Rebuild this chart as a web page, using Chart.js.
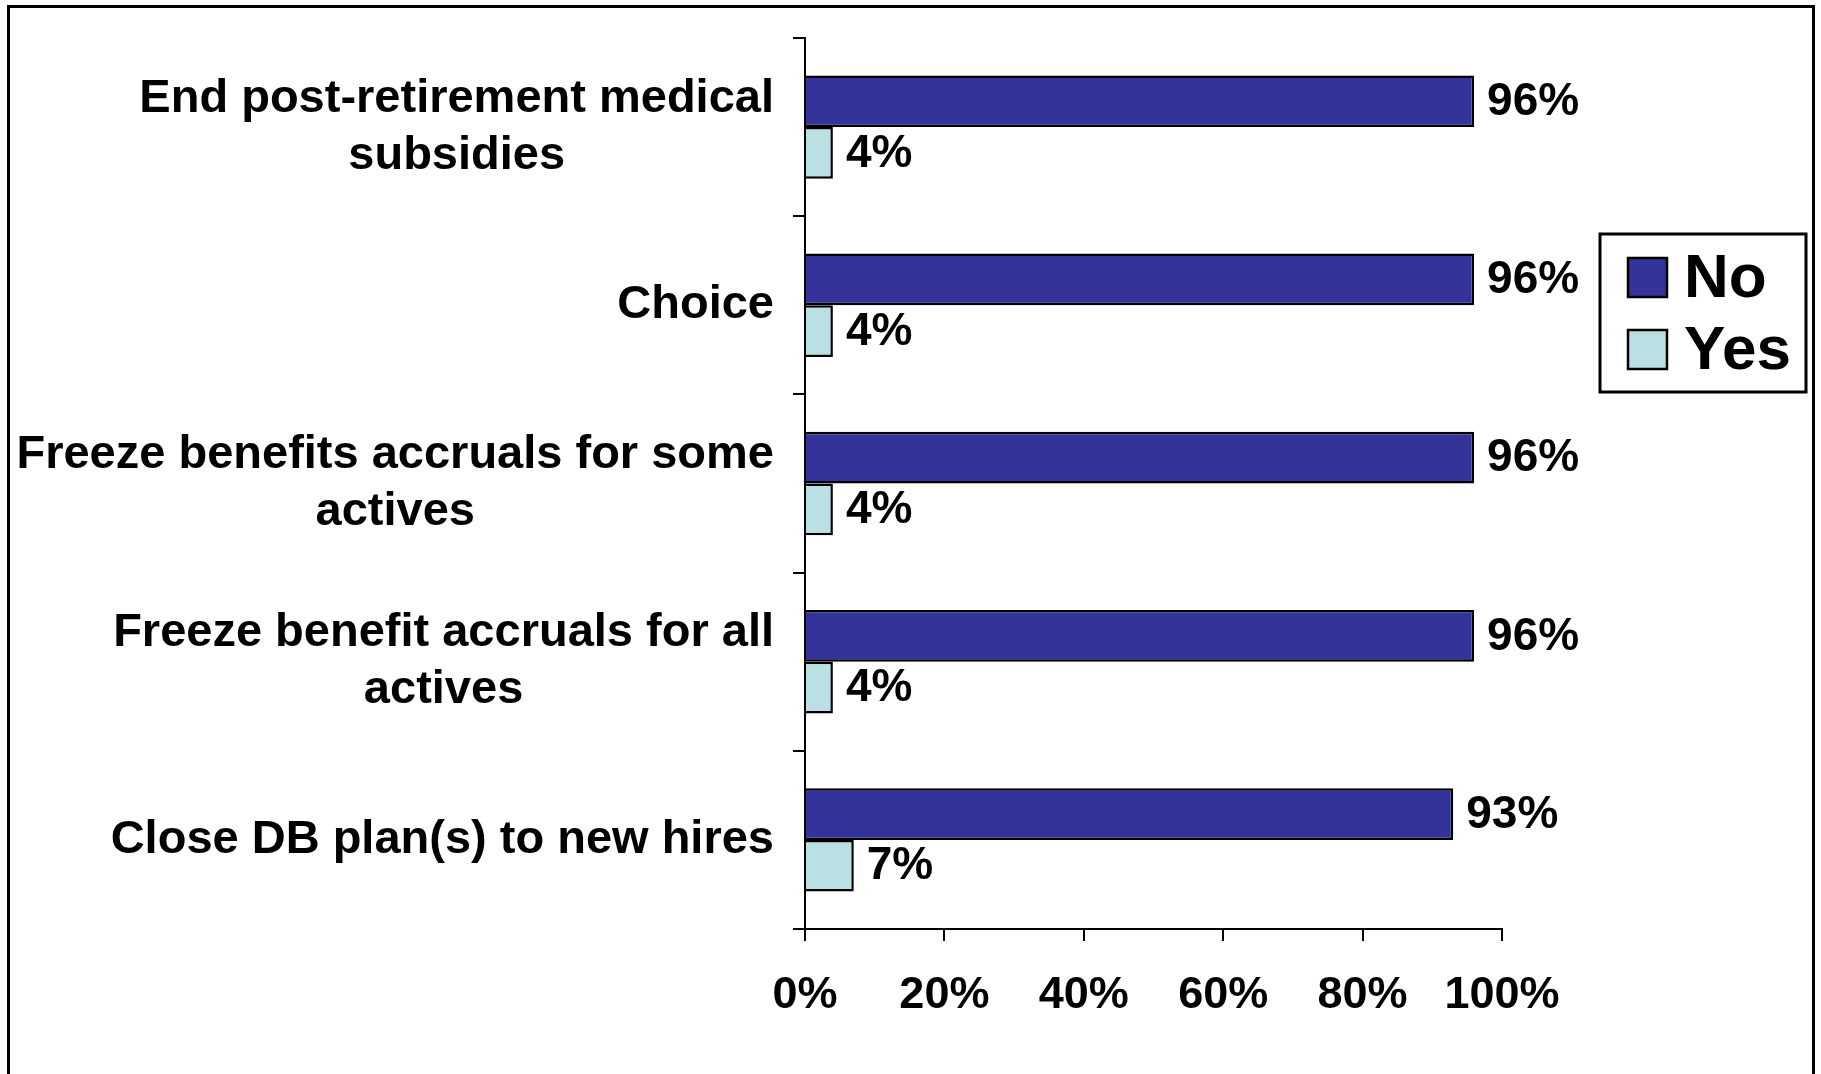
<!DOCTYPE html>
<html>
<head>
<meta charset="utf-8">
<script src="https://cdn.jsdelivr.net/npm/chart.js@4.4.1/dist/chart.umd.min.js"></script>
<style>
  html, body { margin: 0; padding: 0; background: #fff; overflow: hidden; }
  #frame {
    position: absolute; left: 7px; top: 5px; width: 1808px; height: 1200px;
    box-sizing: border-box; border: 3px solid #000;
  }
  #chart { position: absolute; left: 0; top: 0; }
</style>
</head>
<body>
<div id="frame"></div>
<canvas id="chart" width="1821" height="1074"></canvas>
<script>
const categories = [
    ['End post-retirement medical', 'subsidies'],
    ['Choice'],
    ['Freeze benefits accruals for some', 'actives'],
    ['Freeze benefit accruals for all', 'actives'],
    ['Close DB plan(s) to new hires']
];
const noValues = [96, 96, 96, 96, 93];
const yesValues = [4, 4, 4, 4, 7];
const xTicks = [0, 20, 40, 60, 80, 100];

const FONT = '"Liberation Sans", Arial, sans-serif';

// category labels: right aligned block, lines centred inside it
const yLabels = {
    id: 'yLabels',
    afterDraw(chart) {
        const scale = chart.scales.y;
        const c = chart.ctx;
        c.save();
        c.font = 'bold 47px ' + FONT;
        c.fillStyle = '#000';
        c.textAlign = 'center';
        c.textBaseline = 'middle';
        const lineH = 57;
        const rightEdge = scale.right - 31;
        categories.forEach((lines, i) => {
            const yc = scale.getPixelForTick(i);
            const blockW = Math.max(...lines.map(l => c.measureText(l).width));
            const cx = rightEdge - blockW / 2;
            lines.forEach((l, k) => {
                c.fillText(l, cx, yc - (lines.length - 1) * lineH / 2 + k * lineH);
            });
        });
        c.restore();
    }
};

// value labels at bar ends
const barValues = {
    id: 'barValues',
    afterDatasetsDraw(chart) {
        const c = chart.ctx;
        c.save();
        c.font = 'bold 46px ' + FONT;
        c.fillStyle = '#000';
        c.textAlign = 'left';
        c.textBaseline = 'middle';
        chart.data.datasets.forEach((ds, di) => {
            chart.getDatasetMeta(di).data.forEach((bar, i) => {
                c.fillText(ds.data[i] + '%', bar.x + 13, bar.y + 1);
            });
        });
        c.restore();
    }
};

// boxed legend on the right
const boxLegend = {
    id: 'boxLegend',
    afterDraw(chart) {
        const c = chart.ctx;
        c.save();
        c.lineWidth = 3;
        c.strokeStyle = '#000';
        c.strokeRect(1600, 234, 206, 158);
        c.font = 'bold 62px ' + FONT;
        c.textBaseline = 'middle';
        c.textAlign = 'left';
        chart.data.datasets.forEach((ds, i) => {
            const y = 258 + i * 72;
            c.fillStyle = ds.backgroundColor;
            c.fillRect(1628, y, 39, 39);
            c.lineWidth = 2.5;
            c.strokeRect(1628, y, 39, 39);
            c.fillStyle = '#000';
            c.fillText(ds.label, 1684, y + 22);
        });
        c.restore();
    }
};

new Chart(document.getElementById('chart'), {
    type: 'bar',
    data: {
        labels: categories,
        datasets: [
            {
                label: 'No',
                data: noValues,
                backgroundColor: '#333399',
                borderColor: '#000',
                borderWidth: 2.5
            },
            {
                label: 'Yes',
                data: yesValues,
                backgroundColor: '#BBE0E3',
                borderColor: '#000',
                borderWidth: 2.5
            }
        ]
    },
    options: {
        indexAxis: 'y',
        responsive: false,
        animation: false,
        devicePixelRatio: 1,
        categoryPercentage: 0.58,
        barPercentage: 1,
        layout: {
            padding: { left: 0, right: 319, top: 38, bottom: 23 }
        },
        plugins: {
            legend: { display: false },
            tooltip: { enabled: false }
        },
        scales: {
            x: {
                min: 0,
                max: 100,
                afterBuildTicks(scale) {
                    scale.ticks = xTicks.map(v => ({ value: v }));
                },
                grid: {
                    drawOnChartArea: false,
                    color: '#000',
                    lineWidth: 2,
                    tickLength: 12
                },
                border: { color: '#000', width: 2 },
                ticks: {
                    color: '#000',
                    padding: 28,
                    font: { family: FONT, size: 45, weight: 'bold', lineHeight: 1.2 },
                    callback: (v) => v + '%'
                }
            },
            y: {
                afterFit(scale) { scale.width = 805; },
                grid: {
                    drawOnChartArea: false,
                    offset: true,
                    color: '#000',
                    lineWidth: 2,
                    tickLength: 12
                },
                border: { color: '#000', width: 2 },
                ticks: { display: false }
            }
        }
    },
    plugins: [yLabels, barValues, boxLegend]
});
</script>
</body>
</html>
